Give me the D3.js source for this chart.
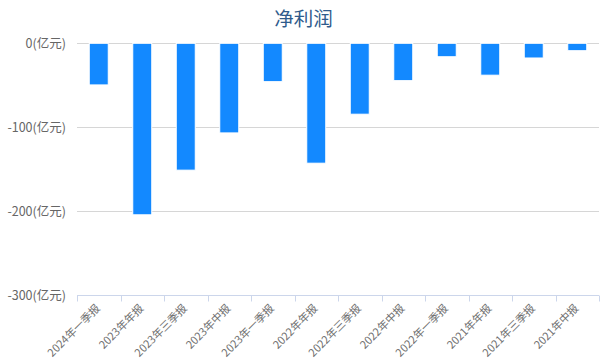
<!DOCTYPE html>
<html><head><meta charset="utf-8">
<script src="https://cdn.jsdelivr.net/npm/d3@7"></script>
<style>body{margin:0;background:#fff;font-family:"Microsoft YaHei","Noto Sans CJK SC",sans-serif;}</style>
</head><body>
<script>
const categories = ["2024年一季报","2023年年报","2023年三季报","2023年中报","2023年一季报","2022年年报","2022年三季报","2022年中报","2022年一季报","2021年年报","2021年三季报","2021年中报"];
const values = [-49.6, -204.4, -151.2, -106.8, -45.7, -142.9, -84.5, -44.5, -16, -38, -17.5, -8.8];
const yTicks = [0, -100, -200, -300];
const title = "净利润";
const unit = "(亿元)";

(function () {
const W = 606, H = 364;
const svg = d3.select("body").append("svg").attr("width", W).attr("height", H);
const mLeft = 77, mRight = 599, mTop = 43.3, mBottom = 295;
const x = d3.scaleBand().domain(categories).range([mLeft, mRight]).paddingInner(0).paddingOuter(0);
const y = d3.scaleLinear().domain([0, -300]).range([mTop, mBottom]);

svg.append("text").attr("x", W/2 + 0.5).attr("y", 25.5).attr("text-anchor", "middle")
  .attr("font-size", 19.5).attr("fill", "#2f5b8c").text(title);

svg.append("g").selectAll("line").data(yTicks.filter(d => d !== -300)).join("line")
  .attr("x1", mLeft).attr("x2", mRight)
  .attr("y1", d => Math.round(y(d)) + 0.5).attr("y2", d => Math.round(y(d)) + 0.5)
  .attr("stroke", "#d6d6d6").attr("stroke-width", 1);

svg.append("g").selectAll("text").data(yTicks).join("text")
  .attr("x", 66).attr("y", d => y(d) + 4.5).attr("text-anchor", "end")
  .attr("font-size", 12.5).attr("fill", "#666").text(d => d + unit);

svg.append("g").selectAll("rect").data(values).join("rect")
  .attr("x", (d, i) => x(categories[i]) + x.bandwidth()/2 - 9.5)
  .attr("width", 19)
  .attr("y", d => y(Math.max(0, d)))
  .attr("height", d => Math.abs(y(d) - y(0)))
  .attr("fill", "#1389ff").attr("stroke", "#ffffff").attr("stroke-width", 1);

const gx = svg.append("g").attr("transform", `translate(0,${Math.round(mBottom)+0.5})`);
gx.append("line").attr("x1", mLeft).attr("x2", mRight).attr("stroke", "#ccd6eb");
const tickPos = d3.range(categories.length + 1).map(i => mLeft + i * x.step());
gx.selectAll("line.t").data(tickPos).join("line").attr("class", "t")
  .attr("x1", d => Math.round(d) + 0.5).attr("x2", d => Math.round(d) + 0.5)
  .attr("y1", 0).attr("y2", 6).attr("stroke", "#ccd6eb");

svg.append("g").selectAll("text").data(categories).join("text")
  .attr("transform", d => `translate(${x(d) + x.bandwidth()/2 + 2},${mBottom + 14}) rotate(-45)`)
  .attr("text-anchor", "end").attr("font-size", 11).attr("fill", "#707070").text(d => d);
})();
</script>
</body></html>
